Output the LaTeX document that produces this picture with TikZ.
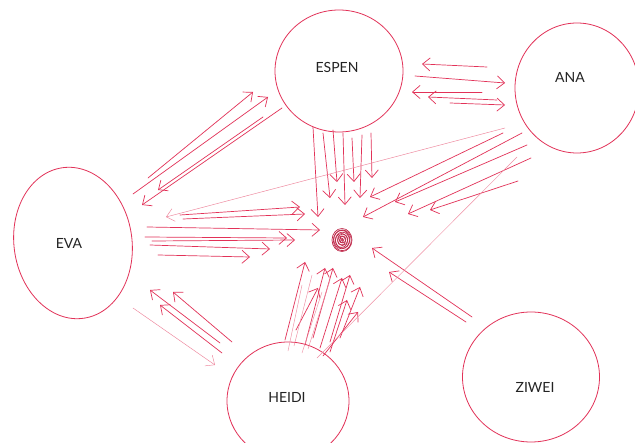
\documentclass[tikz,border=0pt]{standalone}
\usepackage{fontspec}
\newfontfamily\namefont{Lato}
\definecolor{skRed}{RGB}{226,50,88}
\definecolor{skInk}{RGB}{35,35,35}
\usepackage{tikz}
\usetikzlibrary{shapes.geometric, arrows.meta}
\tikzset{
  person/.style={ellipse, draw=skRed, line width=0.8pt, inner sep=0pt},
  nametext/.style={font=\namefont\fontsize{14}{16}\selectfont, text=skInk, inner sep=0pt},
  hubdot/.style={circle, minimum size=20pt, inner sep=0pt},
  sketch/.style={draw=skRed, line width=0.7pt, line cap=round, -{Straight Barb[length=7.5pt,width=13pt]}},
  sketchthin/.style={sketch, draw=skRed!60, line width=0.45pt},
  faintline/.style={draw=skRed!55, line width=0.45pt, line cap=round},
  scribble/.style={draw=skRed!85!black, line width=0.7pt},
}

\begin{document}
\begin{tikzpicture}[x=1pt, y=-1pt]
  \useasboundingbox (0,0) rectangle (635,443);
  \fill[white] (0,0) rectangle (635,443);

  \node[person, minimum width=128pt, minimum height=122pt, label={[nametext, shift={(-2,-4)}]center:ESPEN}] (espen) at (339,71) {};
  \node[person, minimum width=124pt, minimum height=130pt, label={[nametext, shift={(-7,-11)}]center:ANA}] (ana) at (577,88) {};
  \node[person, minimum width=118pt, minimum height=152pt, rotate=8, label={[nametext, shift={(-4,0)}]center:EVA}] (eva) at (73,243) {};
  \node[person, minimum width=122pt, minimum height=118pt, label={[nametext, shift={(-1,-4)}]center:HEIDI}] (heidi) at (288,401) {};
  \node[person, minimum width=137pt, minimum height=130pt, label={[nametext, shift={(4,10)}]center:ZIWEI}] (ziwei) at (531,377) {};
  \node[hubdot] (hub) at (342,240) {};

  \foreach \r/\dx/\dy in {1/0.3/0, 2/-0.6/0.4, 3/0.8/-0.5, 4/-0.4/0.6, 5/0.6/-0.3, 6/-0.5/0.5, 7/0.4/0.2, 8/-0.2/-0.4, 9/0.3/0.3, 10/0/0}
    \draw[scribble] ([shift={(\dx,\dy)}]hub.center) ellipse [x radius=\r, y radius=1.15*\r];

  % eva and espen
  \foreach \a/\b/\c/\d in {75/-65/-86/21, 60/-49/-71/26}
    \draw[sketch] ([shift={(\a,\b)}]eva.center) -- ([shift={(\c,\d)}]espen.center);
  \foreach \a/\b/\c/\d in {-76/46/85/-53, -57/37/69/-38}
    \draw[sketch] ([shift={(\a,\b)}]espen.center) -- ([shift={(\c,\d)}]eva.center);

  % espen and ana
  \foreach \a/\b/\c/\d in {-90/-21/83/-7, -95/4/73/21, -80/12/89/26}
    \draw[sketch] ([shift={(\a,\b)}]ana.center) -- ([shift={(\c,\d)}]espen.center);
  \foreach \a/\b/\c/\d in {76/5/-72/-5, 111/32/-72/17}
    \draw[sketch] ([shift={(\a,\b)}]espen.center) -- ([shift={(\c,\d)}]ana.center);

  % into the middle
  \foreach \a/\b/\c/\d in {-26/56/-24/-23, -16/62/-12/-42, -6/59/-5/-58, 4/62/3/-35, 13/67/12/-58, 23/64/18/-42, 32/62/30/-62}
    \draw[sketch] ([shift={(\a,\b)}]espen.center) -- ([shift={(\c,\d)}]hub.center);
  \foreach \a/\b/\c/\d in {107/-28/-42/-33, 110/-24/-37/-26, 74/-16/-22/-10, 72/-6/-55/-2, 79/-2/-47/0, 77/2/-72/9, 85/12/-92/17}
    \draw[sketch] ([shift={(\a,\b)}]eva.center) -- ([shift={(\c,\d)}]hub.center);
  \foreach \a/\b/\c/\d in {-74/45/28/-43, -55/45/21/-23, -50/57/53/-38, -46/70/66/-26, -59/93/88/-30}
    \draw[sketch] ([shift={(\a,\b)}]ana.center) -- ([shift={(\c,\d)}]hub.center);
  \foreach \a/\b/\c/\d in {-59/-60/30/8, -65/-55/47/32}
    \draw[sketch] ([shift={(\a,\b)}]ziwei.center) -- ([shift={(\c,\d)}]hub.center);
  \foreach \a/\b/\c/\d in {-3/-61/-37/22, 8/-71/-24/48, 17/-56/-17/28, 25/-63/-9/28, 32/-53/0/38, 42/-59/8/35, 52/-63/18/47, 42/-49/5/60, 35/-45/16/72}
    \draw[sketch] ([shift={(\a,\b)}]heidi.center) -- ([shift={(\c,\d)}]hub.center);
  \foreach \a/\b/\c/\d in {0/-50/-40/45, 6/-55/-30/35, 14/-48/-20/52, 20/-52/-12/40}
    \draw[faintline] ([shift={(\a,\b)}]heidi.center) -- ([shift={(\c,\d)}]hub.center);

  % heidi and eva
  \foreach \a/\b/\c/\d in {-56/-59/100/49, -68/-58/77/47, -66/-48/87/62}
    \draw[sketch] ([shift={(\a,\b)}]heidi.center) -- ([shift={(\c,\d)}]eva.center);
  \draw[sketchthin] ([shift={(60,65)}]eva.center) -- ([shift={(-73,-36)}]heidi.center);

  % long thin ones
  \draw[sketchthin] ([shift={(-72,40)}]ana.center) -- ([shift={(93,-26)}]eva.center);
  \draw[faintline] ([shift={(29,-43)}]heidi.center) -- ([shift={(-60,69)}]ana.center);
\end{tikzpicture}
\end{document}
